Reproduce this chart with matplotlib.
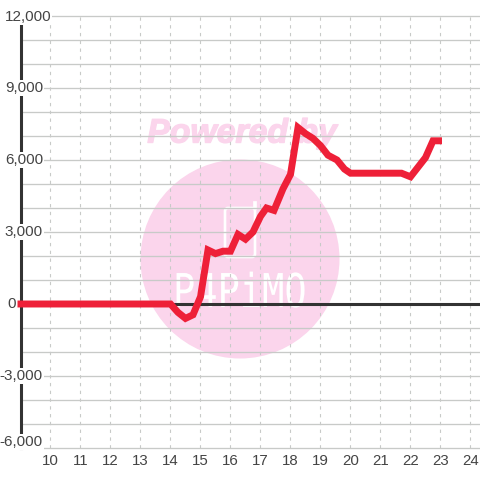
import matplotlib
matplotlib.use('Agg')
import matplotlib.pyplot as plt
import matplotlib.patheffects as pe
from matplotlib.font_manager import FontProperties
from matplotlib.patches import Ellipse, FancyBboxPatch, PathPatch, Rectangle
from matplotlib.textpath import TextPath
from matplotlib.transforms import Affine2D

plt.rcParams['font.family'] = ['Liberation Sans', 'DejaVu Sans']

# data
hours = [8.9, 14.0, 14.25, 14.5, 14.75, 15.0, 15.25, 15.5, 15.75, 16.0, 16.25, 16.5, 16.75, 17.0, 17.2, 17.45,
         17.75, 18.0, 18.25, 18.5, 18.75, 19.0, 19.25, 19.55, 19.8, 20.0, 21.0, 21.7, 22.0, 22.5, 22.75, 23.05]
values = [0, 0, -350, -600, -450, 300, 2250, 2100, 2200, 2200, 2900, 2700, 3000, 3650, 4000, 3900,
          4800, 5400, 7350, 7100, 6900, 6600, 6200, 6000, 5620, 5450, 5450, 5450, 5300, 6100, 6800, 6800]

x_ticks = [10, 11, 12, 13, 14, 15, 16, 17, 18, 19, 20, 21, 22, 23, 24]
y_major = [-6000, -3000, 0, 3000, 6000, 9000, 12000]
y_minor = [-5000, -4000, -2000, -1000, 1000, 2000, 4000, 5000, 7000, 8000, 10000, 11000]
y_labels = ['-6,000', '-3,000', '0', '3,000', '6,000', '9,000', '12,000']

RED = '#EE2038'
DARK = '#333333'
GRID = '#C8CAC8'
PINK = '#FBD5EC'
TEXT = '#444444'

fig = plt.figure(figsize=(4.8, 4.8), dpi=100)
ax = fig.add_axes([20.5 / 480, 32 / 480, 459.5 / 480, 432 / 480])
ax.set_xlim(9.0, 24.317)
ax.set_ylim(-6000, 12000)
ax.patch.set_visible(False)
for side in ['top', 'right', 'bottom', 'left']:
    ax.spines[side].set_visible(False)
ax.set_xticks([])
ax.set_yticks([])

# watermark, pixel coordinates of the figure
bg = fig.add_axes([0, 0, 1, 1], zorder=-1)
bg.set_xlim(0, 480)
bg.set_ylim(480, 0)
bg.axis('off')
bg.add_patch(Ellipse((240, 259), 199, 199, color=PINK, lw=0))
bg.text(242, 134, 'Powered by', color=PINK, fontsize=24.3, fontweight='bold', style='italic',
        ha='center', va='center', path_effects=[pe.withStroke(linewidth=1, foreground=PINK)])
bg.add_patch(FancyBboxPatch((225, 208), 30, 49, boxstyle='round,pad=0,rounding_size=3',
                            fc='none', ec='white', lw=1.9))
bg.add_patch(Rectangle((252.5, 201), 3, 8, fc='white', ec='white', lw=0.5))
logo = TextPath((0, 0), 'P4PiMO', size=1, prop=FontProperties(family='DejaVu Sans Mono'))
bg.add_patch(PathPatch(logo, fc='white', lw=0,
                       transform=Affine2D().scale(37, -46.6).translate(173, 307) + bg.transData))

# grid
for v in y_major + y_minor:
    ax.axhline(v, color=GRID, lw=0.95, zorder=1, clip_on=False)
for v in x_ticks:
    ax.axvline(v, color=GRID, lw=0.8, ls=(0, (3, 4)), zorder=1)

ax.axhline(0, color=DARK, lw=2.2, zorder=2)
ax.axvline(9.0, color=DARK, lw=2.2, zorder=2, clip_on=False)

ax.plot(hours, values, color=RED, lw=5, solid_joinstyle='miter', solid_capstyle='butt', zorder=3, clip_on=False)

# tick labels, white box hides the axis line behind them
for v, s in zip(y_major, y_labels):
    xoff, yoff, ha = 22.5, 0, 'right'
    if v == 12000:
        xoff, yoff = 30.5, -1
    elif v == 0:
        xoff = -4.5
    elif v == -6000:
        yoff = 6
    ax.annotate(s, xy=(0, v), xycoords=('axes fraction', 'data'), xytext=(xoff * 0.72, yoff * 0.72),
                textcoords='offset points', ha=ha, va='center', fontsize=11, color=TEXT, zorder=5,
                bbox=dict(fc='white', ec='none', pad=0.8))
for v in x_ticks:
    ax.annotate(str(v), xy=(v, 0), xycoords=('data', 'axes fraction'), xytext=(0, -13 * 0.72),
                textcoords='offset points', ha='center', va='center', fontsize=10.8, color=TEXT)

fig.savefig('out.png', dpi=100)
